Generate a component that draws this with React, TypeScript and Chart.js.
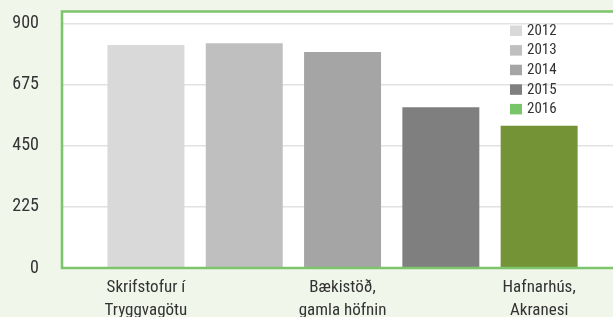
import React, { useEffect, useRef } from "react";
import { Chart, registerables } from "chart.js";

Chart.register(...registerables);

const years = ["2012", "2013", "2014", "2015", "2016"];
const values = [822, 829, 797, 593, 525];
const categories = ["Skrifstofur í\nTryggvagötu", "", "Bækistöð,\ngamla höfnin", "", "Hafnarhús,\nAkranesi"];
const yTicks = [0, 225, 450, 675, 900];
const barColors = ["#d9d9d9", "#bfbfbf", "#a5a5a5", "#7f7f7f", "#739336"];
const legendColors = ["#d9d9d9", "#bfbfbf", "#a5a5a5", "#7f7f7f", "#78c567"];

const FONT = "'Liberation Sans Narrow', 'Roboto Condensed', 'DejaVu Sans Condensed', 'Arial Narrow', sans-serif";
const BG = "#f1f6eb";
const GREEN = "#7cc56c";

const framePlugin = {
  id: "frame",
  beforeDraw(chart: any) {
    const { ctx, chartArea: a, width, height } = chart;
    ctx.save();
    ctx.fillStyle = BG;
    ctx.fillRect(0, 0, width, height);
    ctx.fillStyle = "#ffffff";
    ctx.fillRect(a.left, a.top, a.right - a.left, a.bottom - a.top);
    ctx.restore();
  },
  afterDraw(chart: any) {
    const { ctx, chartArea: a } = chart;
    ctx.save();
    ctx.strokeStyle = GREEN;
    ctx.lineWidth = 2.6;
    ctx.beginPath();
    ctx.moveTo(a.right + 5, a.top);
    ctx.lineTo(a.left, a.top);
    ctx.lineTo(a.left, a.bottom);
    ctx.lineTo(a.right + 5, a.bottom);
    ctx.stroke();
    // legend
    const boxX = a.right - 113;
    ctx.font = "15px " + FONT;
    ctx.textBaseline = "middle";
    ctx.textAlign = "left";
    years.forEach((y, i) => {
      const cy = a.top + 19 + i * 19.6;
      ctx.fillStyle = legendColors[i];
      ctx.fillRect(boxX, cy - 5, 12, 10.5);
      ctx.fillStyle = "#333333";
      ctx.fillText(y, boxX + 17, cy + 0.5);
    });
    ctx.restore();
  },
};

export default function App() {
  const ref = useRef<HTMLCanvasElement | null>(null);
  useEffect(() => {
    document.body.style.margin = "0";
    document.body.style.overflow = "hidden";
    document.documentElement.style.overflow = "hidden";
    const chart = new Chart(ref.current as HTMLCanvasElement, {
      type: "bar",
      data: {
        datasets: years.map((y, i) => ({
          label: y,
          data: [{ x: i, y: values[i] }],
          backgroundColor: barColors[i],
          grouped: false,
          barPercentage: 0.783,
          categoryPercentage: 1,
        })) as any,
      },
      options: {
        animation: false,
        responsive: true,
        maintainAspectRatio: false,
        layout: { padding: { top: 11.5, right: 7, left: 0, bottom: 0 } },
        plugins: { legend: { display: false }, tooltip: { enabled: false } },
        scales: {
          x: {
            type: "linear",
            offset: false,
            min: -0.854,
            max: 4.853,
            grid: { display: false, drawTicks: false },
            border: { display: false },
            afterBuildTicks: (s: any) => {
              s.ticks = categories.map((_, i) => ({ value: i }));
            },
            afterFit: (s: any) => {
              s.height = 49;
              s.paddingLeft = 0;
              s.paddingRight = 0;
            },
            ticks: {
              autoSkip: false,
              maxRotation: 0,
              padding: 8,
              color: "#333333",
              font: { family: FONT, size: 17, lineHeight: 1.38 },
              callback: (v: any) => {
                const c = categories[Math.round(Number(v))];
                return c ? c.split("\n") : "";
              },
            },
          },
          y: {
            min: 0,
            max: 946,
            grid: { color: "#e2e2e2", lineWidth: 1.5, drawTicks: false },
            border: { display: false },
            afterBuildTicks: (s: any) => {
              s.ticks = yTicks.map((v) => ({ value: v }));
            },
            afterFit: (s: any) => {
              s.width = 62;
              s.paddingTop = 0;
              s.paddingBottom = 0;
            },
            ticks: {
              padding: 23,
              color: "#333333",
              font: { family: FONT, size: 18 },
            },
          },
        },
      },
      plugins: [framePlugin],
    });
    return () => chart.destroy();
  }, []);
  return (
    <div style={{ width: 630, height: 317, position: "relative" }}>
      <canvas ref={ref} />
    </div>
  );
}
